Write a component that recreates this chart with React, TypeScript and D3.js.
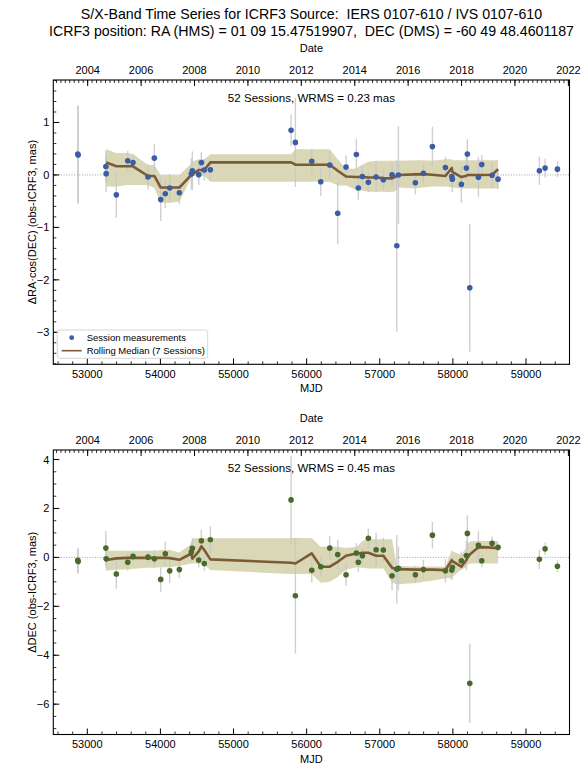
import React from 'react';
import * as d3 from 'd3';

// ---------------- data ----------------
const sessionMjd = [52870, 52875, 53254, 53258, 53397, 53553, 53625, 53830, 53917, 54004, 54067, 54127, 54259, 54423, 54437, 54524, 54560, 54600, 54683, 55787, 55846, 56070, 56193, 56316, 56425, 56539, 56680, 56707, 56762, 56844, 56950, 57049, 57168, 57233, 57255, 57487, 57597, 57720, 57898, 57985, 57993, 58116, 58185, 58198, 58231, 58349, 58395, 58536, 58618, 59183, 59261, 59430];
const raValues = [0.40, 0.38, 0.16, 0.025, -0.38, 0.27, 0.235, -0.04, 0.32, -0.47, -0.36, -0.25, -0.34, 0.02, 0.08, 0.006, 0.235, 0.095, 0.10, 0.85, 0.62, 0.26, -0.13, 0.19, -0.73, 0.15, 0.39, -0.25, -0.03, -0.14, -0.04, -0.09, 0.005, -1.35, 0.0, -0.15, 0.03, 0.54, 0.14, -0.03, -0.08, -0.18, 0.13, 0.40, -2.15, -0.045, 0.20, -0.006, -0.08, 0.08, 0.13, 0.11];
const raErrors = [0.93, 0.93, 0.30, 0.35, 0.44, 0.19, 0.15, 0.24, 0.27, 0.41, 0.27, 0.27, 0.22, 0.30, 0.37, 0.20, 0.20, 0.20, 0.20, 0.30, 0.85, 0.24, 0.27, 0.27, 0.59, 0.22, 0.30, 0.22, 0.20, 0.19, 0.29, 0.19, 0.22, 1.64, 0.93, 0.22, 0.20, 0.38, 0.20, 0.20, 0.25, 0.35, 0.22, 0.28, 1.22, 0.38, 0.18, 0.25, 0.19, 0.27, 0.18, 0.15];
const decValues = [-0.12, -0.17, 0.38, -0.06, -0.68, -0.20, 0.04, 0.01, -0.06, -0.90, 0.15, -0.55, -0.50, 0.22, 0.37, -0.11, 0.68, -0.25, 0.72, 2.35, -1.57, -0.53, -0.38, 0.38, 0.12, -0.71, 0.18, -0.20, 0.07, 0.78, 0.31, 0.30, -0.75, -0.48, -0.45, -0.71, -0.50, 0.91, -0.55, -0.52, -0.40, -0.14, 0.08, 0.98, -5.15, 0.49, -0.14, 0.58, 0.41, -0.08, 0.35, -0.36];
const decErrors = [0.50, 0.50, 0.70, 0.40, 0.60, 0.35, 0.20, 0.25, 0.35, 0.50, 0.50, 0.50, 0.35, 0.40, 0.40, 0.30, 0.45, 0.30, 0.55, 1.80, 2.36, 0.50, 0.40, 0.48, 0.60, 0.45, 0.40, 0.40, 0.30, 0.40, 0.70, 0.50, 0.60, 1.40, 0.90, 0.35, 0.40, 0.55, 0.48, 0.40, 0.40, 0.38, 0.60, 0.74, 1.62, 0.60, 0.25, 0.27, 0.16, 0.40, 0.26, 0.24];

// rolling median (7 sessions) spans sessions 3..48
const medianFirst = 3;
const raMedian = [0.24, 0.165, 0.165, 0.165, -0.02, -0.02, -0.24, -0.24, -0.24, -0.24, 0.0, 0.01, 0.095, 0.095, 0.095, 0.24, 0.24, 0.195, 0.195, 0.195, 0.195, 0.08, -0.03, -0.04, -0.04, -0.04, -0.05, -0.05, -0.06, -0.065, -0.02, 0.0, 0.01, 0.015, 0.005, -0.02, 0.13, 0.06, -0.04, -0.015, 0.0, 0.0, 0.0, 0.0, 0.005, 0.11];
const raUpper = [0.49, 0.42, 0.42, 0.40, 0.19, 0.19, 0.0, 0.0, 0.0, 0.0, 0.22, 0.255, 0.30, 0.30, 0.30, 0.395, 0.395, 0.49, 0.49, 0.49, 0.49, 0.30, 0.12, 0.12, 0.15, 0.20, 0.25, 0.27, 0.27, 0.27, 0.27, 0.27, 0.28, 0.28, 0.27, 0.30, 0.30, 0.28, 0.28, 0.28, 0.28, 0.28, 0.28, 0.28, 0.28, 0.28];
const raLower = [-0.22, -0.22, -0.19, -0.19, -0.19, -0.25, -0.53, -0.53, -0.53, -0.51, -0.05, -0.02, -0.02, -0.02, -0.02, -0.13, -0.13, -0.13, -0.13, -0.13, -0.13, -0.20, -0.20, -0.29, -0.29, -0.30, -0.32, -0.32, -0.32, -0.33, -0.29, -0.24, -0.26, -0.24, -0.22, -0.22, -0.24, -0.24, -0.26, -0.26, -0.26, -0.26, -0.26, -0.26, -0.26, -0.26];
const decMedian = [-0.11, -0.04, -0.02, -0.02, -0.02, -0.02, -0.02, -0.02, -0.03, -0.10, 0.16, -0.05, 0.25, 0.45, 0.30, -0.08, -0.22, -0.25, 0.16, -0.38, -0.38, -0.18, 0.07, 0.16, 0.16, 0.19, 0.19, 0.07, 0.07, -0.42, -0.48, -0.48, -0.50, -0.50, -0.50, -0.52, -0.11, -0.15, -0.38, -0.11, -0.02, 0.12, 0.41, 0.42, 0.40, 0.38];
const decUpper = [0.27, 0.27, 0.27, 0.27, 0.27, 0.27, 0.30, 0.30, 0.30, 0.20, 0.55, 0.78, 0.78, 0.78, 0.78, 0.78, 0.78, 0.80, 0.78, 0.43, 0.43, 0.43, 0.38, 0.43, 0.50, 0.67, 0.74, 0.74, 0.74, 0.74, -0.35, -0.35, -0.37, -0.37, -0.37, -0.38, 0.30, 0.25, 0.10, 0.40, 0.55, 0.65, 0.67, 0.67, 0.67, 0.67];
const decLower = [-0.55, -0.50, -0.50, -0.46, -0.42, -0.42, -0.40, -0.40, -0.40, -0.35, -0.25, -0.25, -0.25, -0.25, -0.30, -0.52, -0.68, -0.68, -0.68, -1.04, -1.00, -0.80, -0.50, -0.40, -0.40, -0.42, -0.45, -0.45, -0.45, -1.04, -1.10, -1.10, -1.05, -1.00, -0.95, -0.85, -0.85, -0.80, -0.50, -0.40, -0.30, -0.25, -0.25, -0.25, -0.25, -0.25];

const mjdTicks = [53000, 54000, 55000, 56000, 57000, 58000, 59000];
const yearTicks = [2004, 2006, 2008, 2010, 2012, 2014, 2016, 2018, 2020, 2022];
const raTicks = [-3, -2, -1, 0, 1];
const decTicks = [-6, -4, -2, 0, 2, 4];

const titleLine1 = 'S/X-Band Time Series for ICRF3 Source:  IERS 0107-610 / IVS 0107-610';
const titleLine2 = 'ICRF3 position: RA (HMS) = 01 09 15.47519907,  DEC (DMS) = -60 49 48.4601187';
const raWrms = '52 Sessions, WRMS = 0.23 mas';
const decWrms = '52 Sessions, WRMS = 0.45 mas';

// ---------------- layout ----------------
const W = 581;
const H = 764;
const FONT = "'Liberation Sans', Arial, Helvetica, sans-serif";
const AX_L = 53.3;
const AX_R = 569.5;
const MJD_DOMAIN: [number, number] = [52535, 59595];

const mjdOfDate = (d: Date) => (d.getTime() - Date.UTC(1858, 10, 17)) / 86400000;

const x = d3.scaleLinear().domain(MJD_DOMAIN).range([AX_L, AX_R]);

interface PanelProps {
  top: number;
  bottom: number;
  yDomain: [number, number];
  yTicks: number[];
  yMinor: number;
  values: number[];
  errors: number[];
  median: number[];
  upper: number[];
  lower: number[];
  color: string;
  ylabel: string;
  wrms: string;
  legend: boolean;
}

function Panel(p: PanelProps) {
  const y = d3.scaleLinear().domain(p.yDomain).range([p.bottom, p.top]);
  const medIdx = p.median.map((_, i) => i + medianFirst);
  const area = d3
    .area<number>()
    .x((i) => x(sessionMjd[i]))
    .y0((_, k) => y(p.lower[k]))
    .y1((_, k) => y(p.upper[k]));
  const line = d3
    .line<number>()
    .x((i) => x(sessionMjd[i]))
    .y((_, k) => y(p.median[k]));

  const minorY = d3
    .range(Math.ceil(p.yDomain[0] / p.yMinor), Math.floor(p.yDomain[1] / p.yMinor) + 1)
    .map((k) => k * p.yMinor);
  const minorX = d3
    .range(Math.ceil(MJD_DOMAIN[0] / 200), Math.floor(MJD_DOMAIN[1] / 200) + 1)
    .map((k) => k * 200)
    .filter((v) => v % 1000 !== 0);
  const dStart = new Date(Date.UTC(2002, 0, 1));
  const dEnd = new Date(Date.UTC(2023, 0, 1));
  const minorDates = d3.utcMonth
    .every(2)!
    .range(dStart, dEnd)
    .map(mjdOfDate)
    .filter((m) => m >= MJD_DOMAIN[0] && m <= MJD_DOMAIN[1]);
  const yearMjd = yearTicks.map((yr) => mjdOfDate(new Date(Date.UTC(yr, 0, 1))));
  const midX = (AX_L + AX_R) / 2;
  const midY = (p.top + p.bottom) / 2;
  const clipId = `clip${Math.round(p.top)}`;

  return (
    <g>
      <defs>
        <clipPath id={clipId}>
          <rect x={AX_L} y={p.top} width={AX_R - AX_L} height={p.bottom - p.top} />
        </clipPath>
      </defs>
      <g clipPath={`url(#${clipId})`}>
        <line x1={AX_L} x2={AX_R} y1={y(0)} y2={y(0)} stroke="#999" strokeWidth={0.9} strokeDasharray="1,1.6" />
        <path d={area(medIdx) || ''} fill="#d9d7b6" />
        {sessionMjd.map((m, i) => (
          <line
            key={`e${i}`}
            x1={x(m)}
            x2={x(m)}
            y1={y(p.values[i] - p.errors[i])}
            y2={y(p.values[i] + p.errors[i])}
            stroke="#c8c8c8"
            strokeWidth={1.4}
            opacity={0.85}
          />
        ))}
        <path d={line(medIdx) || ''} fill="none" stroke="#7b5a36" strokeWidth={2.6} strokeLinejoin="round" />
        {sessionMjd.map((m, i) => (
          <circle key={`p${i}`} cx={x(m)} cy={y(p.values[i])} r={2.8} fill={p.color} />
        ))}
      </g>
      {/* spines */}
      <rect x={AX_L} y={p.top} width={AX_R - AX_L} height={p.bottom - p.top} fill="none" stroke="#000" strokeWidth={1.1} />
      {/* bottom MJD ticks */}
      {mjdTicks.map((t) => (
        <g key={`mx${t}`}>
          <line x1={x(t)} x2={x(t)} y1={p.bottom} y2={p.bottom - 6} stroke="#000" strokeWidth={1} />
          <text x={x(t)} y={p.bottom + 13.5} fontSize={11} textAnchor="middle" fontFamily={FONT}>
            {t}
          </text>
        </g>
      ))}
      {minorX.map((t) => (
        <line key={`mnx${t}`} x1={x(t)} x2={x(t)} y1={p.bottom} y2={p.bottom - 3} stroke="#000" strokeWidth={0.8} />
      ))}
      <text x={midX} y={p.bottom + 28} fontSize={11} textAnchor="middle" fontFamily={FONT}>
        MJD
      </text>
      {/* top date ticks */}
      {yearMjd.map((m, k) => (
        <g key={`yr${k}`}>
          <line x1={x(m)} x2={x(m)} y1={p.top} y2={p.top + 6} stroke="#000" strokeWidth={1} />
          <text x={x(m)} y={p.top - 6.5} fontSize={11} textAnchor="middle" fontFamily={FONT}>
            {yearTicks[k]}
          </text>
        </g>
      ))}
      {minorDates.map((m, k) => (
        <line key={`md${k}`} x1={x(m)} x2={x(m)} y1={p.top} y2={p.top + 3} stroke="#000" strokeWidth={0.8} />
      ))}
      <text x={midX} y={p.top - 28} fontSize={11} textAnchor="middle" fontFamily={FONT}>
        Date
      </text>
      {/* y ticks */}
      {p.yTicks.map((t) => (
        <g key={`yt${t}`}>
          <line x1={AX_L} x2={AX_L + 6} y1={y(t)} y2={y(t)} stroke="#000" strokeWidth={1} />
          <text x={AX_L - 4} y={y(t) + 4} fontSize={11} textAnchor="end" fontFamily={FONT}>
            {t < 0 ? `\u2212${Math.abs(t)}` : `${t}`}
          </text>
        </g>
      ))}
      {minorY.map((t, k) => (
        <line key={`my${k}`} x1={AX_L} x2={AX_L + 3} y1={y(t)} y2={y(t)} stroke="#000" strokeWidth={0.8} />
      ))}
      <text
        transform={`translate(${35.5},${midY}) rotate(-90)`}
        fontSize={11}
        textAnchor="middle"
        fontFamily={FONT}
      >
        {p.ylabel}
      </text>
      <text x={midX} y={p.top + 22} fontSize={11.6} textAnchor="middle" fontFamily={FONT}>
        {p.wrms}
      </text>
      {p.legend && (
        <g>
          <rect x={57.3} y={330} width={150.4} height={28.3} rx={2.5} fill="#fff" fillOpacity={0.85} stroke="#ccc" strokeWidth={0.8} />
          <circle cx={71.7} cy={337.7} r={2.4} fill={p.color} />
          <text x={86.7} y={341} fontSize={9.5} fontFamily={FONT}>
            Session measurements
          </text>
          <line x1={61.7} x2={81.7} y1={350.7} y2={350.7} stroke="#7b5a36" strokeWidth={1.6} />
          <text x={86.7} y={354} fontSize={9.5} fontFamily={FONT}>
            Rolling Median (7 Sessions)
          </text>
        </g>
      )}
    </g>
  );
}

export default function App() {
  return (
    <svg
      width={W}
      height={H}
      viewBox={`0 0 ${W} ${H}`}
      style={{ position: 'absolute', left: 0, top: 0, background: '#fff' }}
    >
      <rect width={W} height={H} fill="#fff" />
      <text x={311.5} y={19} fontSize={14.2} textAnchor="middle" fontFamily={FONT} style={{ whiteSpace: 'pre' }}>
        {titleLine1}
      </text>
      <text x={311.5} y={36} fontSize={14.2} textAnchor="middle" fontFamily={FONT} style={{ whiteSpace: 'pre' }}>
        {titleLine2}
      </text>
      <Panel
        top={80}
        bottom={364.3}
        yDomain={[-3.61, 1.81]}
        yTicks={raTicks}
        yMinor={0.2}
        values={raValues}
        errors={raErrors}
        median={raMedian}
        upper={raUpper}
        lower={raLower}
        color="#3a5da6"
        ylabel={'\u0394RA\u00b7cos(DEC) (obs-ICRF3, mas)'}
        wrms={raWrms}
        legend={true}
      />
      <Panel
        top={450}
        bottom={734.5}
        yDomain={[-7.24, 4.39]}
        yTicks={decTicks}
        yMinor={0.5}
        values={decValues}
        errors={decErrors}
        median={decMedian}
        upper={decUpper}
        lower={decLower}
        color="#4a6a2a"
        ylabel={'\u0394DEC (obs-ICRF3, mas)'}
        wrms={decWrms}
        legend={false}
      />
    </svg>
  );
}
